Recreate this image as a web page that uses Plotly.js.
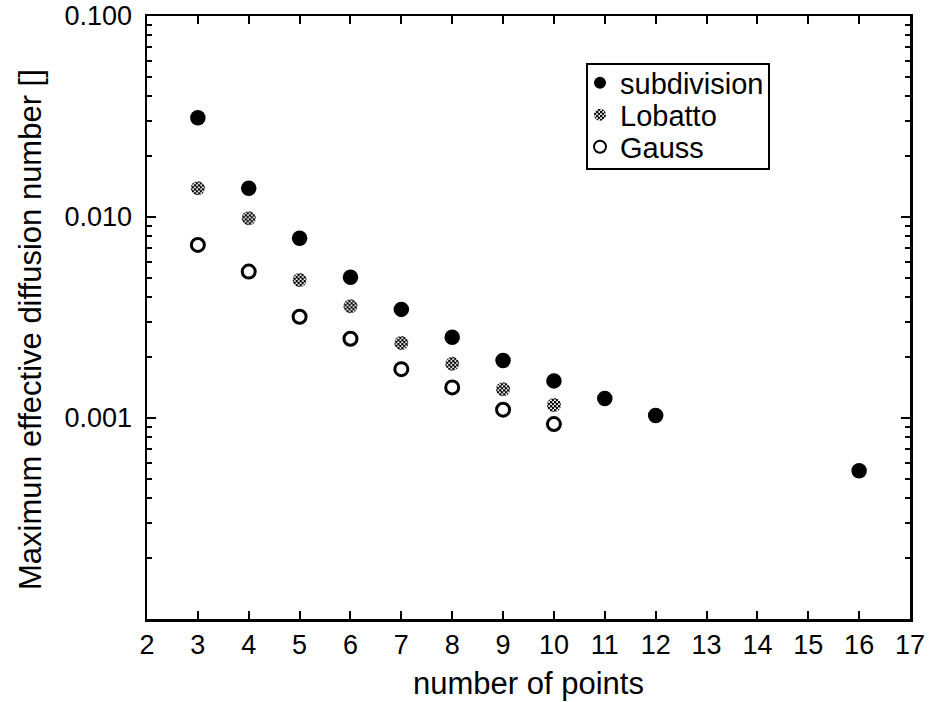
<!DOCTYPE html>
<html>
<head>
<meta charset="utf-8">
<script src="https://cdn.plot.ly/plotly-3.0.1.min.js"></script>
<style>
  html, body { margin: 0; padding: 0; background: #ffffff; }
  #chart { width: 929px; height: 702px; }
  #patterns { position: absolute; width: 0; height: 0; overflow: hidden; }
</style>
</head>
<body>
<!-- halftone fill used for the Lobatto markers -->
<svg id="patterns" xmlns="http://www.w3.org/2000/svg">
  <defs>
    <pattern id="halftone" patternUnits="userSpaceOnUse" width="4" height="4">
      <rect x="0" y="0" width="4" height="4" fill="#ffffff"></rect>
      <rect x="0" y="0" width="2.4" height="2.4" fill="#000000"></rect>
      <rect x="2" y="2" width="2.4" height="2.4" fill="#000000"></rect>
    </pattern>
  </defs>
</svg>
<div id="chart"></div>
<script>
// Number of points per element
const subdivisionPoints = [3, 4, 5, 6, 7, 8, 9, 10, 11, 12, 16];
const subdivisionValues = [0.0312, 0.0139, 0.00783, 0.00501, 0.00347, 0.00252, 0.00193, 0.00153, 0.00125, 0.00103, 0.000547];

const lobattoPoints = [3, 4, 5, 6, 7, 8, 9, 10];
const lobattoValues = [0.0139, 0.00986, 0.00486, 0.00360, 0.00236, 0.00186, 0.00139, 0.00116];

const gaussPoints = [3, 4, 5, 6, 7, 8, 9, 10];
const gaussValues = [0.00726, 0.00535, 0.00319, 0.00248, 0.00175, 0.00142, 0.00110, 0.000933];

// Axis ticks
const xTickValues = [2, 3, 4, 5, 6, 7, 8, 9, 10, 11, 12, 13, 14, 15, 16, 17];
const yTickValues = [0.001, 0.01, 0.1];
const yTickLabels = ['0.001', '0.010', '0.100'];

// Minor ticks at 2..9 within each decade
const yMinorValues = [];
[0.0001, 0.001, 0.01].forEach(d => {
  for (let k = 2; k <= 9; k++) yMinorValues.push(+(d * k).toPrecision(3));
});

const FONT = 'Liberation Sans, Arial, Helvetica, sans-serif';
const LOBATTO_GREY = 'rgb(124, 124, 124)';

const traces = [
  {
    name: 'subdivision', legend: 'legend',
    x: subdivisionPoints, y: subdivisionValues,
    type: 'scatter', mode: 'markers',
    marker: { symbol: 'circle', size: 15.5, color: '#000000', line: { width: 0 } }
  },
  {
    name: 'Lobatto', legend: 'legend2',
    x: lobattoPoints, y: lobattoValues,
    type: 'scatter', mode: 'markers',
    marker: { symbol: 'circle', size: 14, color: LOBATTO_GREY, line: { width: 0 } }
  },
  {
    name: 'Gauss', legend: 'legend3',
    x: gaussPoints, y: gaussValues,
    type: 'scatter', mode: 'markers',
    marker: { symbol: 'circle-open', size: 13, color: '#000000', line: { width: 3, color: '#000000' } }
  }
];

// one legend per entry so the rows can sit close together inside the frame
function legendRow(y) {
  return {
    x: 0.5675, y: y, xanchor: 'left', yanchor: 'middle',
    bgcolor: 'rgba(0,0,0,0)', borderwidth: 0,
    font: { family: FONT, size: 29, color: '#000000' },
    itemsizing: 'constant'
  };
}

const layout = {
  width: 929, height: 702,
  margin: { l: 147, r: 19, t: 16, b: 83 },
  paper_bgcolor: '#ffffff', plot_bgcolor: '#ffffff',
  font: { family: FONT, color: '#000000', size: 27 },
  showlegend: true,
  legend: legendRow(0.8889),
  legend2: legendRow(0.8358),
  legend3: legendRow(0.7828),
  shapes: [{
    type: 'rect', xref: 'paper', yref: 'paper',
    x0: 0.5767, x1: 0.8152, y0: 0.7463, y1: 0.9204,
    line: { color: '#000000', width: 2 }, fillcolor: 'rgba(0,0,0,0)', layer: 'above'
  }],
  // vertical axis title
  annotations: [{
    text: 'Maximum effective diffusion number []',
    xref: 'paper', yref: 'paper', x: -0.1533, y: 0.4792,
    xanchor: 'center', yanchor: 'middle', textangle: -90, showarrow: false,
    font: { family: FONT, size: 31, color: '#000000' }
  }],
  xaxis: {
    range: [2, 17],
    tickmode: 'array', tickvals: xTickValues,
    ticks: 'inside', ticklen: 8, tickwidth: 2, tickcolor: '#000000',
    showline: true, linewidth: 2.5, linecolor: '#000000', mirror: 'ticks',
    showgrid: false, zeroline: false,
    tickfont: { family: FONT, size: 27 },
    ticklabelstandoff: 0,
    title: { text: 'number of points', font: { family: FONT, size: 31 }, standoff: 14 }
  },
  yaxis: {
    type: 'log', range: [-4, -1],
    tickmode: 'array', tickvals: yTickValues, ticktext: yTickLabels,
    ticks: 'inside', ticklen: 9, tickwidth: 2, tickcolor: '#000000',
    minor: { tickmode: 'array', tickvals: yMinorValues, ticks: 'inside', ticklen: 5, tickwidth: 2, tickcolor: '#000000', showgrid: false },
    showline: true, linewidth: 2.5, linecolor: '#000000', mirror: 'ticks',
    showgrid: false, zeroline: false,
    tickfont: { family: FONT, size: 27 },
    ticklabelstandoff: 7
  }
};

Plotly.newPlot('chart', traces, layout, { displayModeBar: false, staticPlot: true }).then(gd => {
  // give the grey Lobatto markers (plot and legend) the halftone fill
  gd.querySelectorAll('path.point, path.scatterpts, .legendpoints path').forEach(p => {
    const fill = p.style.fill.replace(/\s+/g, '');
    if (fill === LOBATTO_GREY.replace(/\s+/g, '')) {
      p.style.fill = 'url(#halftone)';
    }
  });
});
</script>
</body>
</html>
